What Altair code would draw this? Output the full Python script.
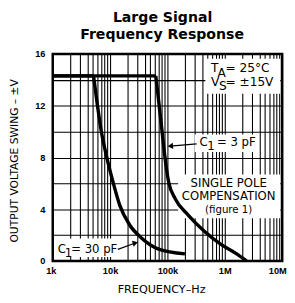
import altair as alt
import pandas as pd

# ---- data ----
c30_freq = [1000, 5150, 6030, 7040, 8220, 11250, 14770, 21820, 34860, 70360, 201800]
c30_volt = [14.3, 14.3, 12.0, 10.0, 8.55, 6.1, 4.3, 2.8, 1.8, 0.92, 0.55]
c3_freq = [1000, 62700, 71800, 80700, 87300, 105000, 137000, 230000, 440000, 845000, 1610000, 2390000]
c3_volt = [14.3, 14.3, 12.0, 10.0, 8.6, 6.1, 4.8, 3.55, 2.3, 1.3, 0.55, 0.0]

x_label_values = [1000, 10000, 100000, 1000000, 10000000]
x_label_text = ["1k", "10k", "100k", "1M", "10M"]
y_label_values = [0, 4, 8, 12, 16]
y_grid_values = [0, 2, 4, 6, 8, 10, 12, 14, 16]
x_grid_values = [m * 10 ** d for d in range(3, 7) for m in range(1, 10)] + [10 ** 7]

# ---- tables ----
def split(name, fr, vo):
    flat = pd.DataFrame({"f": fr[:2], "v": vo[:2], "c": name})
    drop = pd.DataFrame({"f": fr[1:], "v": vo[1:], "c": name})
    return flat, drop

f30, d30 = split("30pF", c30_freq, c30_volt)
f3, d3 = split("3pF", c3_freq, c3_volt)
flat_df = pd.concat([f30, f3], ignore_index=True)
drop_df = pd.concat([d30, d3], ignore_index=True)

x_expr = ""
for v, t in zip(x_label_values, x_label_text):
    x_expr += f"datum.value == {v} ? '{t}' : "
x_expr += "''"
y_expr = "indexof(" + str(y_label_values) + ", datum.value) >= 0 ? datum.label : ''"

X = alt.X("f:Q", scale=alt.Scale(type="log", domain=[1000, 10000000]),
          axis=alt.Axis(values=x_grid_values, labelExpr=x_expr, title=None, grid=True,
                        ticks=False, domain=False, labelPadding=5, labelFlush=False,
                        labelOverlap=False,
                        labelOffset={"expr": "datum.value == 10000000 ? -5 : (datum.value == 1000 ? -2 : 0)"}))
Y = alt.Y("v:Q", scale=alt.Scale(domain=[0, 16], nice=False),
          axis=alt.Axis(values=y_grid_values, labelExpr=y_expr, title=None, grid=True,
                        ticks=False, domain=False, labelPadding=8, labelOverlap=False))

flat = alt.Chart(flat_df).mark_line(color="black", strokeWidth=3.5).encode(x=X, y=Y, detail="c:N")
drop = alt.Chart(drop_df).mark_line(color="black", strokeWidth=3.5, interpolate="monotone").encode(
    x=X, y=Y, detail="c:N")

one = alt.Data(values=[{"a": 1}])
FONT = "DejaVu Sans"

def box(x, x2, y, y2):
    return alt.Chart(one).mark_rect(color="white").encode(
        x=alt.value(x), x2=alt.value(x2), y=alt.value(y), y2=alt.value(y2))

def txt(s, x, y, size=12, align="left", weight="normal", angle=0, baseline="alphabetic", font=FONT):
    return alt.Chart(one).mark_text(text=s, align=align, fontSize=size, font=font,
                                    fontWeight=weight, angle=angle, baseline=baseline,
                                    color="black").encode(x=alt.value(x), y=alt.value(y))

def seg(x, x2, y, y2):
    return alt.Chart(one).mark_rule(color="black", strokeWidth=1.3).encode(
        x=alt.value(x), x2=alt.value(x2), y=alt.value(y), y2=alt.value(y2))

def head(x, y, shape, angle):
    return alt.Chart(one).mark_point(shape=shape, filled=True, color="black", size=40,
                                     opacity=1, angle=angle).encode(x=alt.value(x), y=alt.value(y))

boxes = [
    box(157, 234, 5, 41),
    box(146, 210, 83, 101),
    box(129, 234, 124, 169),
    box(2, 71, 190, 209),
]

texts = [
    txt("Large Signal", 113, -32.5, size=14.5, align="center", weight="bold"),
    txt("Frequency Response", 112.5, -15, size=14.5, align="center", weight="bold"),
    txt("OUTPUT VOLTAGE SWING – ±V", -38.5, 110, size=11, align="center", angle=270,
        baseline="middle"),
    txt("FREQUENCY–Hz", 112, 242.5, size=11.5, align="center", baseline="middle"),
    txt("T", 162.7, 19, size=12.5), txt("A", 169.5, 24, size=12.5), txt("= 25°C", 177.7, 19, size=12.5),
    txt("V", 162.7, 32.5, size=12.5), txt("S", 171, 37.5, size=12.5), txt("= ±15V", 177.7, 32.5, size=12.5),
    txt("C", 151, 95), txt("1", 159, 99), txt("= 3 pF", 169, 95),
    txt("SINGLE POLE", 181, 137.3, align="center"),
    txt("COMPENSATION", 181, 150.7, align="center"),
    txt("(figure 1)", 181, 164, size=10.5, align="center"),
    txt("C", 5.3, 205), txt("1", 12.5, 209), txt("= 30 pF", 19, 205),
]

arrows = [
    seg(148, 121, 92.5, 94.8), head(121, 94.8, "triangle-left", 355),
    seg(67, 85, 201, 194.5), head(85, 194.5, "triangle-right", 345),
]

chart = alt.layer(flat, *boxes, drop, *arrows, *texts).properties(
    width=236, height=213,
    autosize=alt.AutoSizeParams(type="none"),
    padding={"left": 46, "top": 43, "right": 5, "bottom": 39},
).configure_view(stroke="black", strokeWidth=2.5).configure_axis(
    gridColor="black", gridWidth=1.1, gridOpacity=1,
    labelFont="Liberation Sans", labelFontSize=9.5, labelFontWeight="bold", labelColor="black",
)

chart.save("out.html", embed_options={"renderer": "svg", "actions": False})
